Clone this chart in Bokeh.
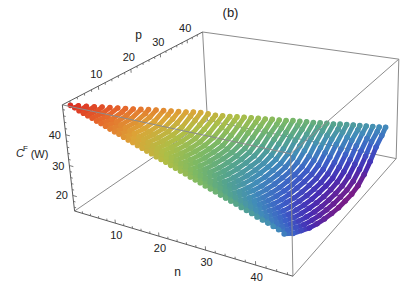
import numpy as np
from bokeh.plotting import figure
from bokeh.embed import file_html
from bokeh.resources import INLINE
from bokeh.core.properties import value

# C^F(W), one list per n, at p = 1, 4, 7, ... and p = n.
# Only row 45 and the two straight outer edges can really be read; the inner rows
# are my own smooth estimate between those edges, checked against the colour bands.
c01 = [49.0]
c02 = [48.5,48.5]
c03 = [47.9,48.0]
c04 = [47.4,47.5]
c05 = [46.9,46.8,47.1]
c06 = [46.4,46.1,46.6]
c07 = [45.8,45.4,46.1]
c08 = [45.3,44.7,45.1,45.6]
c09 = [44.8,44.1,44.3,45.1]
c10 = [44.2,43.5,43.5,44.6]
c11 = [43.7,42.9,42.7,43.6,44.2]
c12 = [43.2,42.3,42.1,42.7,43.7]
c13 = [42.6,41.7,41.3,41.6,43.2]
c14 = [42.1,41.0,40.6,40.7,42.1,42.7]
c15 = [41.6,40.5,40.0,39.9,41.0,42.2]
c16 = [41.0,39.9,39.3,39.2,40.0,41.7]
c17 = [40.5,39.2,38.6,38.4,38.9,40.6,41.3]
c18 = [40.0,38.7,38.0,37.7,37.9,39.5,40.8]
c19 = [39.5,38.1,37.3,37.0,37.0,38.3,40.0]
c20 = [38.9,37.5,36.7,36.2,36.2,37.2,38.6,39.2]
c21 = [38.4,36.9,36.0,35.5,35.4,36.1,37.6,38.7]
c22 = [37.9,36.3,35.4,34.8,34.6,35.1,36.4,38.1]
c23 = [37.3,35.7,34.7,34.1,33.8,34.0,35.4,37.0,37.6]
c24 = [36.8,35.2,34.1,33.4,33.1,33.1,34.3,35.9,37.1]
c25 = [36.3,34.6,33.4,32.7,32.3,32.3,33.1,34.7,36.6]
c26 = [35.8,34.0,32.7,32.1,31.6,31.5,32.1,33.8,35.4,36.1]
c27 = [35.2,33.4,32.1,31.3,30.8,30.7,31.0,32.6,34.3,35.5]
c28 = [34.7,32.8,31.5,30.6,30.1,29.9,30.1,31.4,33.0,35.0]
c29 = [34.2,32.2,30.9,30.0,29.4,29.1,29.2,30.1,32.1,33.6,34.4]
c30 = [33.6,31.6,30.2,29.2,28.6,28.3,28.2,29.0,30.8,32.6,33.9]
c31 = [33.1,31.1,29.6,28.6,27.9,27.5,27.4,27.9,29.6,31.4,33.5]
c32 = [32.6,30.5,29.1,28.0,27.2,26.8,26.6,26.9,28.3,30.4,32.1,32.9]
c33 = [32.0,29.9,28.3,27.2,26.5,25.9,25.8,25.9,27.0,29.3,31.1,32.4]
c34 = [31.5,29.3,27.8,26.6,25.7,25.2,24.9,25.0,25.9,27.8,29.7,31.8]
c35 = [31.0,28.7,27.1,25.9,25.0,24.4,24.1,24.0,24.7,26.5,28.8,30.4,31.3]
c36 = [30.5,28.2,26.5,25.2,24.3,23.6,23.3,23.2,23.6,25.0,27.4,29.5,30.8]
c37 = [29.9,27.6,25.9,24.6,23.6,22.9,22.5,22.4,22.6,23.9,26.1,28.2,30.2]
c38 = [29.4,27.0,25.4,23.9,22.9,22.2,21.8,21.6,21.7,22.6,24.7,27.2,28.7,29.8]
c39 = [28.9,26.4,24.7,23.2,22.3,21.4,20.9,20.7,20.7,21.5,23.5,25.8,27.9,29.3]
c40 = [28.3,25.8,24.1,22.6,21.5,20.7,20.1,19.8,19.7,20.3,22.0,24.4,26.5,28.8]
c41 = [27.8,25.2,23.5,21.9,20.8,19.9,19.3,19.0,18.9,19.2,20.7,22.9,25.7,27.3,28.2]
c42 = [27.3,24.7,22.9,21.3,20.1,19.2,18.5,18.1,18.0,18.3,19.5,21.5,24.2,26.4,27.7]
c43 = [26.7,24.1,22.3,20.6,19.4,18.4,17.7,17.3,17.1,17.3,18.2,20.2,22.7,24.9,27.2]
c44 = [26.2,23.5,21.7,19.9,18.7,17.7,17.0,16.5,16.3,16.3,17.0,18.8,21.2,24.1,25.7,26.6]
c45 = [25.4,22.9,21.1,19.3,18.0,17.0,16.2,15.6,15.4,15.3,15.8,17.4,19.7,22.6,24.6,26.2]
rows = [c01,c02,c03,c04,c05,c06,c07,c08,c09,c10,c11,c12,c13,c14,c15,c16,c17,c18,c19,c20,c21,c22,c23,
        c24,c25,c26,c27,c28,c29,c30,c31,c32,c33,c34,c35,c36,c37,c38,c39,c40,c41,c42,c43,c44,c45]
n_ticks = list(range(2, 47, 2))
p_ticks = list(range(2, 46, 2))
z_ticks = list(range(16, 50, 2))
n_labels = [10, 20, 30, 40]
p_labels = [10, 20, 30, 40]
z_labels = [20, 30, 40]

N_LO, N_HI, P_LO, P_HI, Z_LO, Z_HI = 0.0, 47.0, 0.0, 46.2, 14.7, 49.5

corners3=[(0,0,1),(0,1,1),(1,1,1),(1,0,1),(0,0,0),(1,0,0),(1,1,0),(0,1,0)]
corners2=[(62,104),(202,31),(398,59),(290.5,154),(74,210),(292,276),(396,157),(207,121)]
M=[];b=[]
for (X,Y,Z),(u,v) in zip(corners3,corners2):
    M.append([X,Y,Z,1,0,0,0,0,-u*X,-u*Y,-u*Z]);b.append(u)
    M.append([0,0,0,0,X,Y,Z,1,-v*X,-v*Y,-v*Z]);b.append(v)
C=np.append(np.linalg.lstsq(np.array(M,float),np.array(b,float),rcond=None)[0],1.0).reshape(3,4)
def proj(n,q,z):
    X=(n-N_LO)/(N_HI-N_LO);Y=(q-P_LO)/(P_HI-P_LO);Z=(z-Z_LO)/(Z_HI-Z_LO)
    h=C@np.array([X,Y,Z,1.0])
    return h[0]/h[2],h[1]/h[2]

stops=[(120,28,135),(70,45,180),(60,95,200),(65,140,185),(85,165,140),(125,185,100),(175,190,70),(220,165,55),(230,110,45),(220,45,35)]
allz=[v for r in rows for v in r];zmin,zmax=min(allz),max(allz)
def colour(z):
    t=(z-zmin)/(zmax-zmin)*(len(stops)-1);i=min(int(t),len(stops)-2);a=t-i
    c=[round(stops[i][k]*(1-a)+stops[i+1][k]*a) for k in range(3)]
    return "#%02x%02x%02x"%tuple(c)

p=figure(width=415,height=284,x_range=(0,415),y_range=(284,0),toolbar_location=None,output_backend="svg",min_border=0)
p.axis.visible=False;p.grid.visible=False;p.outline_line_color=None

def edge(a,b,col,w=1.0):
    A=proj(*a);B=proj(*b)
    p.line([A[0],B[0]],[A[1],B[1]],line_color=col,line_width=w)
L,R,F,K,D,U=N_LO,N_HI,P_LO,P_HI,Z_LO,Z_HI
LIGHT="#8c8c8c";DARK="#5a5a5a"
edge((L,K,U),(L,K,D),LIGHT);edge((L,K,D),(L,F,D),LIGHT);edge((L,K,D),(R,K,D),LIGHT);edge((R,K,U),(R,K,D),LIGHT);edge((L,K,U),(R,K,U),LIGHT)

sx0=[];sy0=[];sx1=[];sy1=[];sc=[];dx=[];dy=[];dc=[]
for n,r in enumerate(rows,1):
    ps=list(range(1,n,3))+[n]
    pts=[proj(n,q,z) for q,z in zip(ps,r)]
    for i,(pt,z) in enumerate(zip(pts,r)):
        dx.append(pt[0]);dy.append(pt[1]);dc.append(colour(z))
        if i+1<len(pts):
            sx0.append(pt[0]);sy0.append(pt[1]);sx1.append(pts[i+1][0]);sy1.append(pts[i+1][1]);sc.append(colour((z+r[i+1])/2))
p.segment(sx0,sy0,sx1,sy1,line_color=sc,line_width=4.8,line_cap="round")
p.scatter(dx,dy,size=5.6,fill_color=dc,line_color=None)

edge((L,F,U),(R,F,U),LIGHT);edge((R,F,U),(R,F,D),LIGHT);edge((R,F,U),(R,K,U),LIGHT);edge((R,F,D),(R,K,D),LIGHT)
edge((L,F,U),(L,K,U),DARK);edge((L,F,U),(L,F,D),DARK);edge((L,F,D),(R,F,D),DARK)
for v in n_ticks:
    edge((v,F,D),(v,F,D+(1.2 if v%10==0 else .7)),DARK,0.8)
for v in p_ticks:
    edge((L,v,U),(L,v,U-(1.2 if v%10==0 else .7)),DARK,0.8)
for v in z_ticks:
    edge((L,F,v),(L+(1.0 if v%10==0 else .5),F,v),DARK,0.8)
FONT=value("Liberation Sans")
def label(x,y,s,size="11px",style="normal"):
    p.text([x],[y],text=[s],text_font=FONT,text_font_size=size,text_font_style=style,text_align="center",text_baseline="middle",text_color="#222222")
for v in n_labels:
    a,b=proj(v,F,D);label(a+1,b+12,str(v))
for v in p_labels:
    a,b=proj(L,v,U);label(a-2,b-12,str(v))
for v in z_labels:
    a,b=proj(L,F,v);label(a-11,b,str(v))
label(230,12,"(b)","13px");label(138,34,"p","12px");label(177,271,"n","12px")
label(19.5,152,"C","11px","italic");label(25,148,"F","8px");label(39,153,"(W)","11px")
open("out.html","w").write(file_html(p,INLINE))
